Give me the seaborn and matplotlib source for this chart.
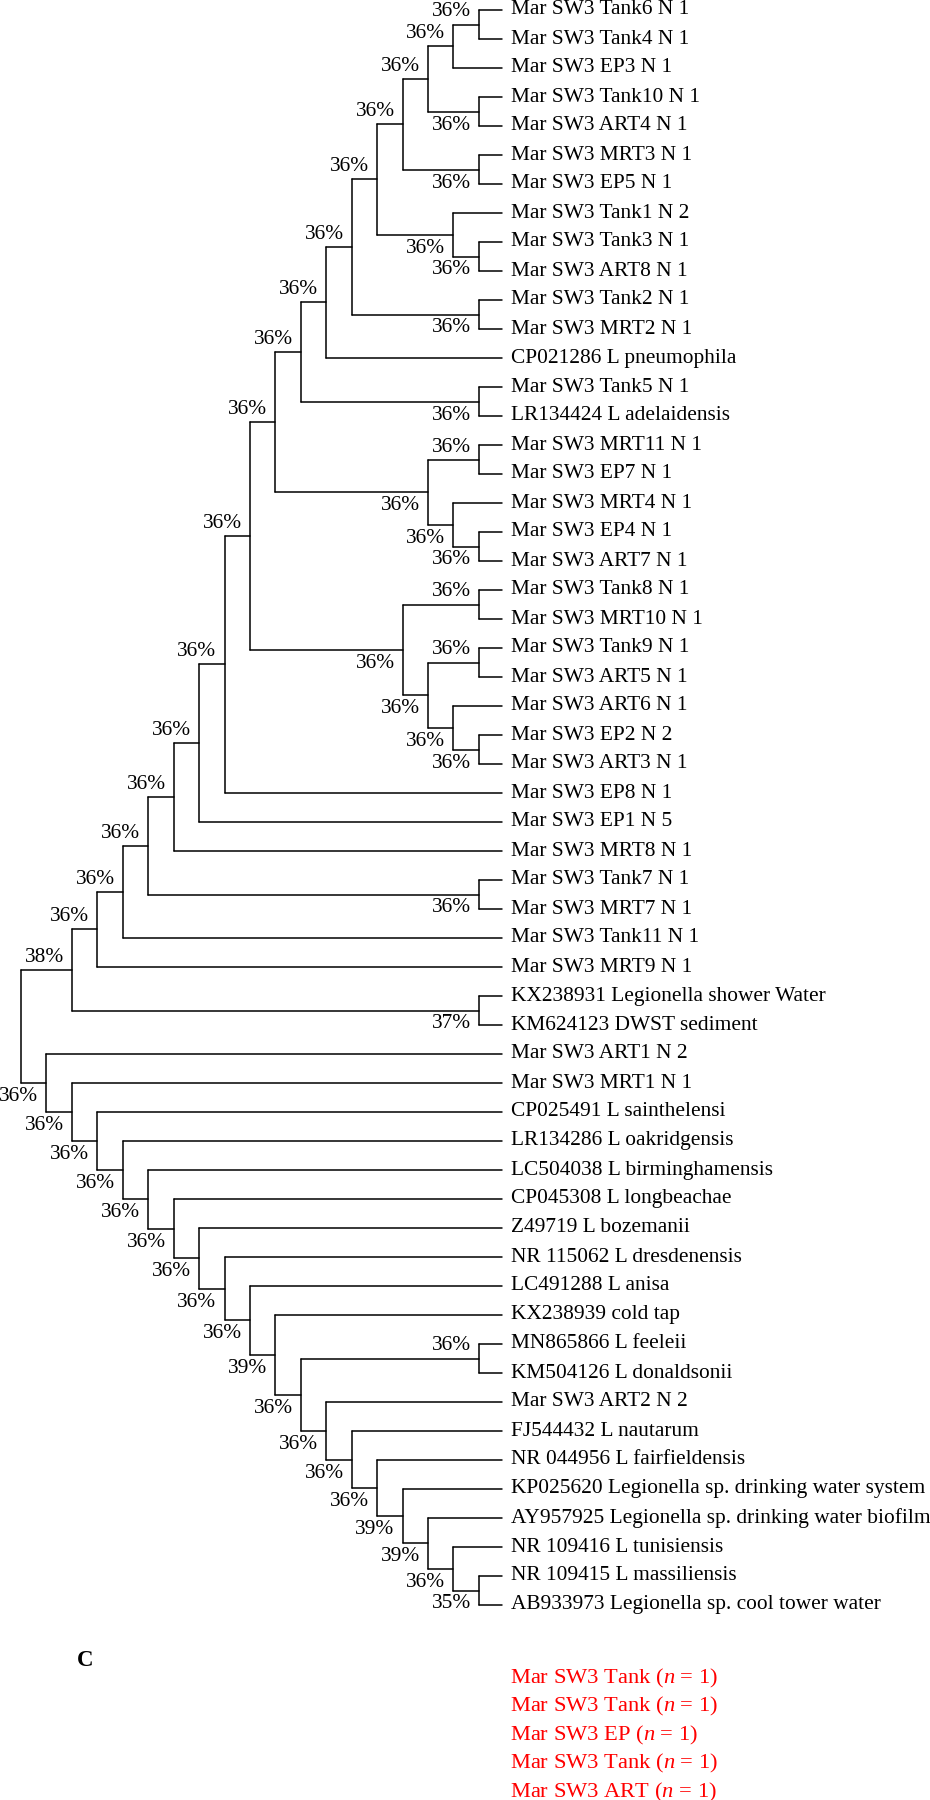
import numpy as np
import pandas as pd
import matplotlib
matplotlib.use("Agg")
import matplotlib.pyplot as plt
import seaborn as sns

# ---------------- data: tree topology (Newick pieces) with support values ----------------
a1 = "(Mar SW3 Tank6 N 1,Mar SW3 Tank4 N 1)36%"
a2 = f"({a1},Mar SW3 EP3 N 1)36%"
a3 = f"({a2},(Mar SW3 Tank10 N 1,Mar SW3 ART4 N 1)36%)36%"
a4 = f"({a3},(Mar SW3 MRT3 N 1,Mar SW3 EP5 N 1)36%)36%"
a5 = f"({a4},(Mar SW3 Tank1 N 2,(Mar SW3 Tank3 N 1,Mar SW3 ART8 N 1)36%)36%)36%"
a6 = f"({a5},(Mar SW3 Tank2 N 1,Mar SW3 MRT2 N 1)36%)36%"
a7 = f"({a6},CP021286 L pneumophila)36%"
a8 = f"({a7},(Mar SW3 Tank5 N 1,LR134424 L adelaidensis)36%)36%"
clade_b = ("((Mar SW3 MRT11 N 1,Mar SW3 EP7 N 1)36%,"
           "(Mar SW3 MRT4 N 1,(Mar SW3 EP4 N 1,Mar SW3 ART7 N 1)36%)36%)36%")
a9 = f"({a8},{clade_b})36%"
clade_c = ("((Mar SW3 Tank8 N 1,Mar SW3 MRT10 N 1)36%,"
           "((Mar SW3 Tank9 N 1,Mar SW3 ART5 N 1)36%,"
           "(Mar SW3 ART6 N 1,(Mar SW3 EP2 N 2,Mar SW3 ART3 N 1)36%)36%)36%)36%")
a10 = f"({a9},{clade_c})36%"
a11 = f"({a10},Mar SW3 EP8 N 1)36%"
a12 = f"({a11},Mar SW3 EP1 N 5)36%"
a13 = f"({a12},Mar SW3 MRT8 N 1)36%"
a14 = f"({a13},(Mar SW3 Tank7 N 1,Mar SW3 MRT7 N 1)36%)36%"
a15 = f"({a14},Mar SW3 Tank11 N 1)36%"
a16 = f"({a15},Mar SW3 MRT9 N 1)36%"
upper = f"({a16},(KX238931 Legionella shower Water,KM624123 DWST sediment)37%)38%"

l1 = "(NR 109415 L massiliensis,AB933973 Legionella sp. cool tower water)35%"
l2 = f"(NR 109416 L tunisiensis,{l1})36%"
l3 = f"(AY957925 Legionella sp. drinking water biofilm,{l2})39%"
l4 = f"(KP025620 Legionella sp. drinking water system,{l3})39%"
l5 = f"(NR 044956 L fairfieldensis,{l4})36%"
l6 = f"(FJ544432 L nautarum,{l5})36%"
l7 = f"(Mar SW3 ART2 N 2,{l6})36%"
l8 = f"((MN865866 L feeleii,KM504126 L donaldsonii)36%,{l7})36%"
l9 = f"(KX238939 cold tap,{l8})39%"
l10 = f"(LC491288 L anisa,{l9})36%"
l11 = f"(NR 115062 L dresdenensis,{l10})36%"
l12 = f"(Z49719 L bozemanii,{l11})36%"
l13 = f"(CP045308 L longbeachae,{l12})36%"
l14 = f"(LC504038 L birminghamensis,{l13})36%"
l15 = f"(LR134286 L oakridgensis,{l14})36%"
l16 = f"(CP025491 L sainthelensi,{l15})36%"
l17 = f"(Mar SW3 MRT1 N 1,{l16})36%"
lower = f"(Mar SW3 ART1 N 2,{l17})36%"

tree_newick = f"({upper},{lower})"

panel_letter = "C"
legend_groups = ["Mar SW3 Tank", "Mar SW3 Tank", "Mar SW3 EP", "Mar SW3 Tank", "Mar SW3 ART"]
legend_n = [1, 1, 1, 1, 1]


# ---------------- parse & layout ----------------
def parse(s):
    pos = 0

    def node():
        nonlocal pos
        if s[pos] == "(":
            pos += 1
            kids = [node()]
            while s[pos] == ",":
                pos += 1
                kids.append(node())
            pos += 1  # ')'
            start = pos
            while pos < len(s) and s[pos] not in ",()":
                pos += 1
            return {"children": kids, "support": s[start:pos]}
        start = pos
        while pos < len(s) and s[pos] not in ",()":
            pos += 1
        return {"name": s[start:pos]}

    return node()


root = parse(tree_newick)
leaves = []


def assign(n):
    if "children" not in n:
        n["y"] = float(len(leaves))
        n["h"] = 0
        leaves.append(n)
        return
    for c in n["children"]:
        assign(c)
    n["y"] = (n["children"][0]["y"] + n["children"][-1]["y"]) / 2
    n["h"] = 1 + max(c["h"] for c in n["children"])


assign(root)
MAXH = root["h"]
TIP = MAXH - 0.1


def xpos(n):
    return TIP if "children" not in n else MAXH - n["h"]


segs = []
labels = []
sid = 0


def walk(n, is_root=True):
    global sid
    if "children" not in n:
        return
    xn = xpos(n)
    ys = [c["y"] for c in n["children"]]
    segs.append((sid, xn, min(ys))); segs.append((sid, xn, max(ys))); sid += 1
    for i, c in enumerate(n["children"]):
        segs.append((sid, xn, c["y"])); segs.append((sid, xpos(c), c["y"])); sid += 1
        if "children" in c:
            labels.append((xpos(c), c["y"], c["support"], i == 0))
        walk(c, False)


walk(root)
df = pd.DataFrame(segs, columns=["seg", "x", "y"])

# ---------------- draw ----------------
sns.set_theme(style="white")
plt.rcParams["font.family"] = ["Liberation Serif", "DejaVu Serif"]
plt.rcParams["mathtext.fontset"] = "custom"
plt.rcParams["mathtext.rm"] = "Liberation Serif"
plt.rcParams["mathtext.it"] = "Liberation Serif:italic"

W, H, DPI = 930, 1800, 100
fig = plt.figure(figsize=(W / DPI, H / DPI), dpi=DPI)
ax = fig.add_axes([0, 0, 1, 1])

XS = 25.44   # px per level
X0 = 21.0    # px of root
YS = 29.0    # px per leaf
Y0 = 10.0    # px of first leaf

sns.lineplot(data=df, x="x", y="y", units="seg", estimator=None, sort=False,
             color="black", linewidth=1.1, ax=ax, legend=False)

ax.set_xlim(-X0 / XS, (W - X0) / XS)
ax.set_ylim((H - Y0) / YS, -Y0 / YS)
ax.axis("off")

FS = 15.4
for lf in leaves:
    ax.text(TIP + 9 / XS, lf["y"], lf["name"], ha="left", va="center",
            fontsize=FS, color="black")

for x, y, s, up in labels:
    yy = y - 12.5 / YS if up else y + 13.5 / YS
    ax.text(x - 8 / XS, yy, s, ha="right", va="center", fontsize=FS, color="black")

fig.text(85 / W, 1 - 1660 / H, panel_letter, ha="center", va="center",
         fontsize=16.5, fontweight="bold", color="black")
for i, (g, n) in enumerate(zip(legend_groups, legend_n)):
    fig.text(510 / W, 1 - (1678 + 28.5 * i) / H, f"{g} ($n$ = {n})",
             ha="left", va="center", fontsize=16.2, color="#ff0000")

fig.savefig("out.png", dpi=DPI)
